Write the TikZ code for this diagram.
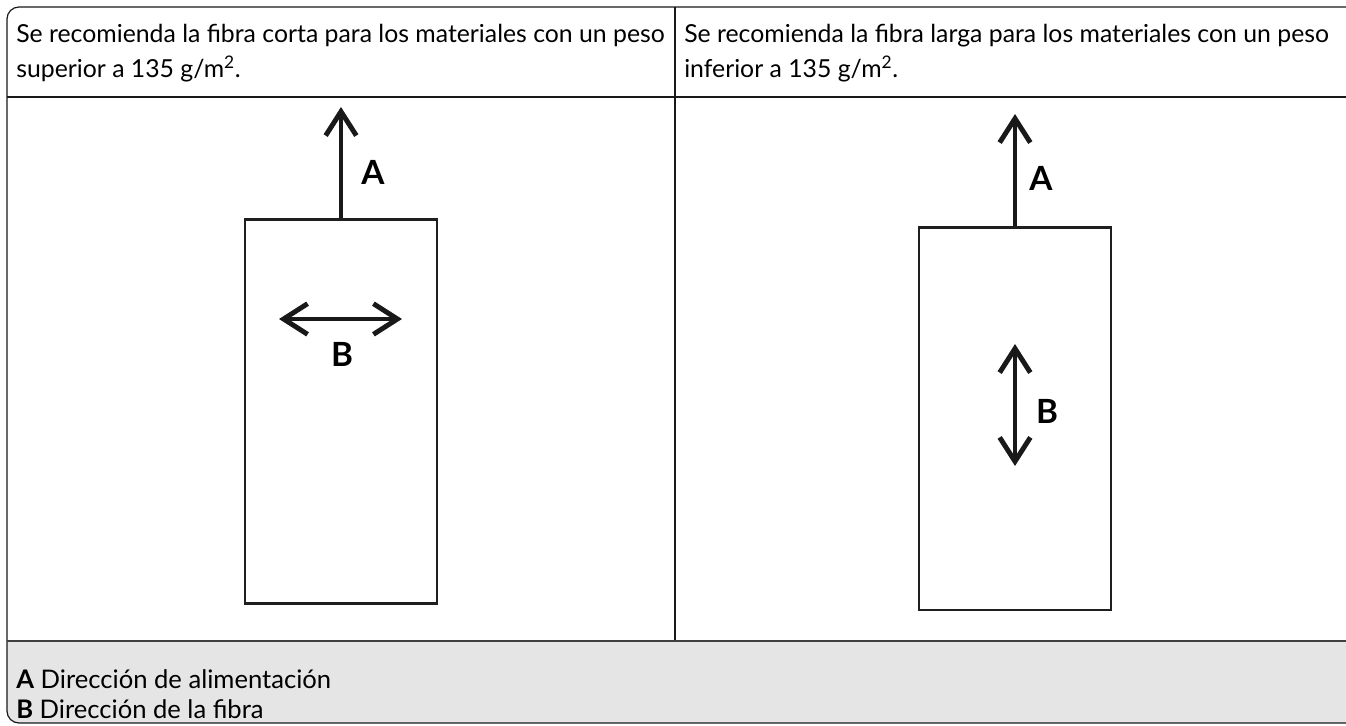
\documentclass[tikz,border=0pt]{standalone}
\usepackage{fontspec}
\setmainfont{Lato}
\usetikzlibrary{arrows.meta}

\begin{document}
\begin{tikzpicture}[x=0.75pt,y=-0.75pt,
		txt/.style={anchor=base west,inner sep=0pt,font=\fontsize{18.6}{22}\selectfont},
		key/.style={txt,font=\fontsize{19.2}{22}\selectfont},
		tag/.style={inner sep=0pt,font=\fontsize{25}{30}\selectfont\bfseries},
		rule/.style={draw=black!90,line width=0.9pt},
		sheet/.style={draw=black!88,line width=2pt},
		fiber/.style={draw=black!90,line width=3.7pt,
			arrows={-Straight Barb[length=18pt,width=23pt]}},
		bothfiber/.style={fiber,arrows={Straight Barb[length=18pt,width=23pt]-Straight Barb[length=18pt,width=23pt]}}]
		\useasboundingbox (0,0) rectangle (1346,725);
		% legend background
		\begin{scope}
		\clip[rounded corners=9pt] (7,7) rectangle (1360,723);
		\fill[black!10] (0,641) rectangle (1360,725);
		\end{scope}
		\draw[rule,rounded corners=9pt] (7,7) rectangle (1360,723);
		\draw[rule] (7,97) -- (1360,97);
		\draw[rule] (675,7) -- (675,641);
		\draw[draw=black!75,line width=1.2pt] (7,641) -- (1360,641);
		%
		% header texts
		\node[txt] (lhead1) at (16,42) {Se recomienda la fibra corta para los materiales con un peso};
		\node[txt] (lhead2) at (16,77) {superior a 135 g/m\textsuperscript{2}.};
		\node[txt] (rhead1) at (684,42) {Se recomienda la fibra larga para los materiales con un peso};
		\node[txt] (rhead2) at (684,77) {inferior a 135 g/m\textsuperscript{2}.};
		%
		% left sheet
		\node[sheet,minimum width=144pt,minimum height=288pt,inner sep=0pt] (lsheet) at (341,411.5) {};
		\coordinate (lfeed) at (341,107);
		\coordinate (lgrainW) at (279,319);
		\coordinate (lgrainE) at (402,319);
		\draw[fiber] (lsheet.north) -- (lfeed);
		\draw[bothfiber] (lgrainW) -- (lgrainE);
		\node[tag] (lA) at (373,172) {A};
		\node[tag] (lB) at (342,354) {B};
		%
		% right sheet
		\node[sheet,minimum width=144pt,minimum height=287pt,inner sep=0pt] (rsheet) at (1015,418.5) {};
		\coordinate (rfeed) at (1015,114);
		\coordinate (rgrainN) at (1015,344);
		\coordinate (rgrainS) at (1015,466);
		\draw[fiber] (rsheet.north) -- (rfeed);
		\draw[bothfiber] (rgrainN) -- (rgrainS);
		\node[tag] (rA) at (1041,178) {A};
		\node[tag] (rB) at (1047,411) {B};
		%
		% legend
		\node[key] (keyA) at (16,688) {\textbf{A} Dirección de alimentación};
		\node[key] (keyB) at (16,718) {\textbf{B} Dirección de la fibra};
\end{tikzpicture}
\end{document}
